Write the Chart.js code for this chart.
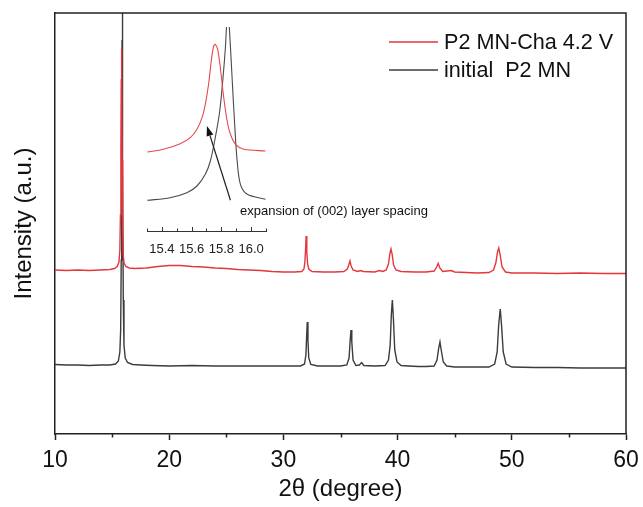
<!DOCTYPE html>
<html>
<head>
<meta charset="utf-8">
<script src="https://cdn.jsdelivr.net/npm/chart.js@4/dist/chart.umd.min.js"></script>
<style>
  html, body { margin: 0; padding: 0; background: #fff; }
  #wrap { position: relative; width: 643px; height: 507px; }
  #wrap canvas { position: absolute; left: 0; top: 0; }
</style>
</head>
<body>
<div id="wrap">
  <canvas id="main" width="643" height="507"></canvas>
  <canvas id="inset" width="643" height="507"></canvas>
</div>
<script>
// ---- XRD patterns (2θ in degrees, stacked intensity in a.u.) ----
const chargedTwoTheta = [10.0, 11.0, 12.0, 13.0, 14.0, 14.8, 15.2, 15.45, 15.6, 15.68, 15.73, 15.77, 15.80, 15.82, 15.85, 15.88, 15.92, 15.97, 16.05, 16.2, 16.5, 17.0, 18.0, 19.0, 20.0, 21.0, 22.0, 23.0, 24.0, 25.0, 26.0, 27.0, 28.0, 29.0, 30.0, 31.0, 31.6, 31.8, 31.88, 31.94, 31.99, 32.05, 32.12, 32.22, 32.5, 33.5, 34.5, 35.3, 35.6, 35.72, 35.83, 35.93, 36.1, 36.5, 36.75, 37.0, 38.0, 38.4, 38.7, 39.0, 39.2, 39.32, 39.42, 39.52, 39.65, 39.85, 40.3, 41.5, 42.5, 43.2, 43.42, 43.55, 43.7, 43.95, 44.7, 45.0, 46.0, 47.0, 48.0, 48.4, 48.6, 48.75, 48.86, 48.98, 49.15, 49.45, 50.0, 52.0, 54.0, 56.0, 58.0, 60.0];
const chargedIntensity = [164, 163.5, 164, 163.5, 164, 164.5, 165.5, 167.5, 172, 184, 219, 284, 354, 385, 354, 274, 204, 179, 171, 167.5, 166, 165.5, 166, 167.5, 168.5, 168.5, 167.5, 167, 166, 165.5, 164.5, 164, 163.5, 162.5, 162, 162, 162.5, 165, 172, 184, 198, 182, 170, 165, 162.5, 162, 162, 162.5, 165, 169, 173, 168, 164, 162.5, 163.5, 162.5, 162, 163.5, 162.5, 164, 170, 180, 185, 180, 169, 164, 162.5, 162, 162, 163, 167, 170.5, 166, 162.5, 163.5, 162, 161.5, 161, 161.5, 164, 171, 182, 186, 179, 167, 162, 161, 161, 160.5, 161, 160.5, 160.5];

const initialTwoTheta = [10.0, 11.0, 12.0, 13.0, 14.0, 14.8, 15.3, 15.55, 15.68, 15.75, 15.8, 15.84, 15.87, 15.89, 15.91, 15.94, 15.98, 16.04, 16.15, 16.35, 16.8, 17.5, 18.5, 20.0, 22.0, 24.0, 26.0, 28.0, 30.0, 31.5, 31.85, 31.97, 32.03, 32.09, 32.15, 32.22, 32.4, 33.0, 34.0, 35.0, 35.55, 35.75, 35.85, 35.92, 35.99, 36.1, 36.35, 36.65, 36.85, 37.05, 38.0, 38.9, 39.2, 39.35, 39.45, 39.54, 39.63, 39.75, 39.95, 40.3, 41.0, 41.8, 42.5, 43.2, 43.45, 43.6, 43.71, 43.82, 44.0, 44.3, 45.0, 46.0, 47.0, 48.0, 48.5, 48.72, 48.85, 48.99, 49.1, 49.25, 49.5, 50.0, 52.0, 54.0, 56.0, 58.0, 60.0];
const initialIntensity = [69.5, 69, 69, 68.5, 69, 69, 70, 73, 82, 104, 174, 284, 394, 494, 394, 274, 134, 89, 76, 71.5, 69.5, 69, 68.5, 68, 68.5, 68, 68, 68, 68, 68, 70, 79, 96, 112, 94, 76, 69.5, 68, 68, 68, 69, 76, 94, 104, 92, 74, 68.5, 69, 71.5, 68.5, 68, 68.5, 74, 89, 119, 134, 116, 84, 72, 68.5, 68, 67.5, 67.5, 68, 74, 86, 92, 84, 72, 68, 67, 67, 67, 67, 70, 82, 109, 125, 109, 82, 70, 67, 66.5, 66.5, 66, 66, 66];

// ---- (002) reflection, enlarged ----
const zoomChargedTwoTheta = [15.302, 15.410, 15.523, 15.591, 15.636, 15.670, 15.692, 15.714, 15.732, 15.748, 15.759, 15.775, 15.793, 15.816, 15.839, 15.861, 15.895, 15.951, 16.097];
const zoomChargedIntensity = [79, 81.7, 87.3, 93.3, 101.7, 113.3, 126.7, 146.7, 170, 185, 186.7, 181.7, 163.3, 133.3, 110, 96.7, 86.7, 81.7, 80];
const zoomInitialTwoTheta = [15.302, 15.455, 15.568, 15.636, 15.692, 15.726, 15.759, 15.789, 15.811, 15.827, 15.834, 15.844, 15.854, 15.872, 15.888, 15.906, 15.928, 15.974, 16.097];
const zoomInitialIntensity = [30.7, 33.3, 38.3, 45, 56.7, 70, 93.3, 120, 153.3, 183.3, 202.7, 220, 202.7, 153.3, 110, 70, 46.7, 36.7, 31.7];

// arrow marking the peak shift: [2θ, intensity] of tail and head
const shiftArrowFrom = [15.861, 30.7];
const shiftArrowTo = [15.703, 105];

const seriesLabels = ['P2 MN-Cha 4.2 V', 'initial  P2 MN'];
const axisTitles = { x: '2θ (degree)', y: 'Intensity (a.u.)' };
const shiftNote = 'expansion of (002) layer spacing';
const mainTicks = [10, 20, 30, 40, 50, 60];
const mainMinorTicks = [15, 25, 35, 45, 55];

const FONT = "'Liberation Sans', Arial, Helvetica, sans-serif";
const RED = '#e3363d';
const DARK = '#3c3c3c';
const AXIS = '#222';

function pairs(xs, ys) { return xs.map((x, i) => ({ x, y: ys[i] })); }

// frame, minor ticks and legend of the main plot
const mainDecor = {
  id: 'mainDecor',
  afterDraw(chart) {
    const { ctx, chartArea: a } = chart;
    const xs = chart.scales.x;
    ctx.save();
    ctx.strokeStyle = AXIS;
    ctx.lineWidth = 1.5;
    ctx.beginPath();
    ctx.moveTo(a.left, a.top); ctx.lineTo(a.right, a.top); ctx.lineTo(a.right, a.bottom);
    ctx.stroke();
    ctx.beginPath();
    mainMinorTicks.forEach(v => {
      const px = Math.round(xs.getPixelForValue(v)) + 0.5;
      ctx.moveTo(px, a.bottom); ctx.lineTo(px, a.bottom + 3.5);
    });
    ctx.stroke();
    // legend
    ctx.font = '21.6px ' + FONT;
    ctx.textBaseline = 'middle';
    ctx.fillStyle = '#111';
    chart.data.datasets.forEach((ds, i) => {
      const y = 42 + i * 28;
      ctx.strokeStyle = ds.borderColor;
      ctx.lineWidth = 1.3;
      ctx.beginPath(); ctx.moveTo(389, y); ctx.lineTo(438, y); ctx.stroke();
      ctx.fillText(ds.label, 444, y + 1);
    });
    ctx.restore();
  }
};

new Chart(document.getElementById('main'), {
  type: 'scatter',
  data: {
    datasets: [
      { label: seriesLabels[0], data: pairs(chargedTwoTheta, chargedIntensity), borderColor: RED,
        showLine: true, pointRadius: 0, borderWidth: 1.4, tension: 0 },
      { label: seriesLabels[1], data: pairs(initialTwoTheta, initialIntensity), borderColor: DARK,
        showLine: true, pointRadius: 0, borderWidth: 1.4, tension: 0 }
    ]
  },
  options: {
    responsive: false, animation: false, devicePixelRatio: 1,
    layout: { padding: { top: 13, right: 17, left: 0, bottom: 0 } },
    plugins: { legend: { display: false }, tooltip: { enabled: false } },
    scales: {
      x: {
        type: 'linear', min: 10, max: 60,
        afterFit(s) { s.height = 73; s.paddingLeft = 0; s.paddingRight = 0; },
        afterBuildTicks(s) { s.ticks = mainTicks.map(v => ({ value: v })); },
        ticks: { font: { family: FONT, size: 23 }, color: '#111', padding: 7, maxRotation: 0, autoSkip: false },
        grid: { display: true, drawOnChartArea: false, drawTicks: true, tickLength: 6, tickWidth: 1.5, tickColor: AXIS },
        border: { display: true, color: AXIS, width: 1.5 },
        title: { display: true, text: axisTitles.x, font: { family: FONT, size: 24 }, color: '#111', padding: { top: 0, bottom: 3 } }
      },
      y: {
        type: 'linear', min: 0, max: 421,
        afterFit(s) { s.width = 55; s.paddingTop = 0; s.paddingBottom = 0; },
        ticks: { display: false },
        grid: { display: false },
        border: { display: true, color: AXIS, width: 1.5 },
        title: { display: true, text: axisTitles.y, font: { family: FONT, size: 24 }, color: '#111', padding: { top: 10, bottom: 0 } }
      }
    }
  },
  plugins: [mainDecor]
});

// inward ticks, arrow and note for the enlarged view
const insetDecor = {
  id: 'insetDecor',
  afterDraw(chart) {
    const { ctx, chartArea: a } = chart;
    const xs = chart.scales.x, ys = chart.scales.y;
    ctx.save();
    ctx.strokeStyle = '#333';
    ctx.lineWidth = 1;
    ctx.beginPath();
    xs.ticks.forEach(t => {
      const px = Math.round(xs.getPixelForValue(t.value)) + 0.5;
      const major = Math.round(t.value * 10) % 2 === 0;
      ctx.moveTo(px, a.bottom); ctx.lineTo(px, a.bottom - (major ? 4 : 2.5));
    });
    ctx.stroke();
    // arrow
    const x0 = xs.getPixelForValue(shiftArrowFrom[0]), y0 = ys.getPixelForValue(shiftArrowFrom[1]);
    const x1 = xs.getPixelForValue(shiftArrowTo[0]), y1 = ys.getPixelForValue(shiftArrowTo[1]);
    const ang = Math.atan2(y1 - y0, x1 - x0);
    const hl = 10, hw = 3.5;
    const bx = x1 - hl * Math.cos(ang), by = y1 - hl * Math.sin(ang);
    ctx.strokeStyle = '#222';
    ctx.lineWidth = 1.2;
    ctx.beginPath(); ctx.moveTo(x0, y0); ctx.lineTo(bx, by); ctx.stroke();
    ctx.fillStyle = '#111';
    ctx.beginPath();
    ctx.moveTo(x1, y1);
    ctx.lineTo(bx + hw * Math.sin(ang), by - hw * Math.cos(ang));
    ctx.lineTo(bx - hw * Math.sin(ang), by + hw * Math.cos(ang));
    ctx.closePath(); ctx.fill();
    // note
    ctx.font = '13px ' + FONT;
    ctx.textBaseline = 'middle';
    ctx.fillStyle = '#111';
    ctx.fillText(shiftNote, 240, 211);
    ctx.restore();
  }
};

new Chart(document.getElementById('inset'), {
  type: 'scatter',
  data: {
    datasets: [
      { data: pairs(zoomChargedTwoTheta, zoomChargedIntensity), borderColor: '#e5484e',
        showLine: true, pointRadius: 0, borderWidth: 1.1, tension: 0.3 },
      { data: pairs(zoomInitialTwoTheta, zoomInitialIntensity), borderColor: '#4a4a4a',
        showLine: true, pointRadius: 0, borderWidth: 1.1, tension: 0.3 }
    ]
  },
  options: {
    responsive: false, animation: false, devicePixelRatio: 1,
    layout: { padding: { left: 147, right: 377, top: 27, bottom: 0 } },
    plugins: { legend: { display: false }, tooltip: { enabled: false } },
    scales: {
      x: {
        type: 'linear', min: 15.3, max: 16.1,
        afterFit(s) { s.height = 276; s.paddingLeft = 0; s.paddingRight = 0; },
        ticks: {
          stepSize: 0.1, autoSkip: false, maxRotation: 0, padding: 3,
          font: { family: FONT, size: 13 }, color: '#222',
          callback: v => (Math.round(v * 10) % 2 === 0 ? Number(v).toFixed(1) : '')
        },
        grid: { display: false },
        border: { display: true, color: '#333', width: 1 }
      },
      y: { display: false, min: 0, max: 204 }
    }
  },
  plugins: [insetDecor]
});
</script>
</body>
</html>
